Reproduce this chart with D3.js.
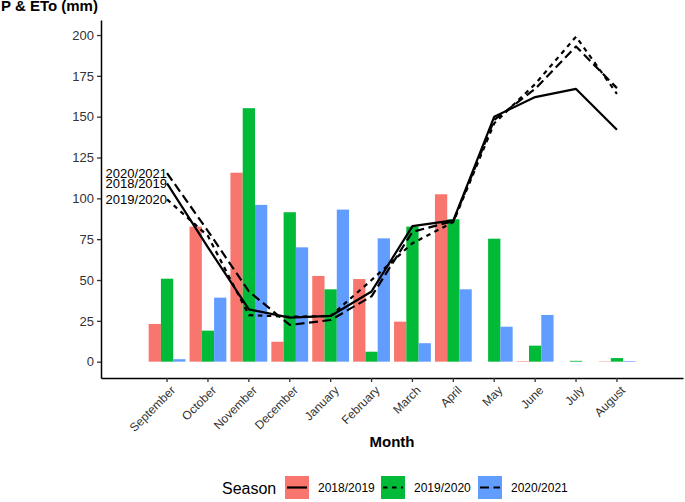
<!DOCTYPE html>
<html><head><meta charset="utf-8">
<script src="https://cdn.jsdelivr.net/npm/d3@7"></script>
<style>
body{margin:0;background:#fff;}
text{font-family:"Liberation Sans",Arial,Helvetica,sans-serif;}
</style></head>
<body><svg id="c" width="685" height="502"></svg>
<script>
const months = ["September","October","November","December","January","February","March","April","May","June","July","August"];
const seasons = ["2018/2019","2019/2020","2020/2021"];
const precip2018 = [23.1, 82.7, 115.7, 12.2, 52.5, 50.6, 24.5, 102.5, 0, 0.3, 0, 0.2];
const precip2019 = [50.8, 19.0, 155.2, 91.5, 44.3, 6.1, 82.7, 87.2, 75.3, 9.8, 0.5, 2.2];
const precip2020 = [1.5, 39.2, 96.0, 70.0, 93.1, 75.5, 11.3, 44.3, 21.4, 28.6, 0, 0.4];
const eto2018 = [109.2, 70, 32, 27, 28, 43, 83, 86.5, 150, 162, 167, 142];
const eto2019 = [99.4, 77, 28.5, 27.5, 28, 50, 72.5, 85.5, 146, 170, 199, 164];
const eto2020 = [115.4, 80, 43, 22.5, 25.5, 40, 79.5, 86, 148, 167, 193, 167.5];
const yTicks = [0, 25, 50, 75, 100, 125, 150, 175, 200];
const colors = ["#F8766D", "#00BA38", "#619CFF"];
const dashes = [null, "4.5,4.5", "9,4.5"];

const precip = [precip2018, precip2019, precip2020];
const eto = [eto2018, eto2019, eto2020];

const svg = d3.select("#c");
const L = 101, R = 683, T = 20, B = 378;

const x = d3.scaleBand().domain(months).range([L, R]).paddingInner(0).paddingOuter(1.115);
const y = d3.scaleLinear().domain([-10, 209.2]).range([B, T]);
const cx = m => x(m) + x.bandwidth() / 2;
const xs = d3.scaleBand().domain(seasons).range([-0.45 * x.step(), 0.45 * x.step()]);

// bars
seasons.forEach((s, si) => {
  svg.append("g").selectAll("rect").data(months).join("rect")
    .attr("x", (m) => cx(m) + xs(s))
    .attr("width", xs.bandwidth())
    .attr("y", (m, i) => y(precip[si][i]))
    .attr("height", (m, i) => y(0) - y(precip[si][i]))
    .attr("fill", colors[si]);
});

// lines
const line = d3.line().x((d, i) => cx(months[i])).y(d => y(d));
seasons.forEach((s, si) => {
  svg.append("path").datum(eto[si]).attr("d", line)
    .attr("fill", "none").attr("stroke", "#000").attr("stroke-width", 2.2)
    .attr("stroke-linejoin", "round")
    .attr("stroke-dasharray", dashes[si]);
});

// labels at September
seasons.forEach((s, si) => {
  svg.append("text").attr("x", cx(months[0])).attr("y", y(eto[si][0]))
    .attr("dy", "0.36em").attr("text-anchor", "end")
    .attr("font-size", 13).attr("fill", "#000").text(s);
});

// axes
const yAxis = svg.append("g").attr("transform", `translate(${L},0)`)
  .call(d3.axisLeft(y).tickValues(yTicks).tickSize(4).tickSizeOuter(0).tickPadding(3));
yAxis.select(".domain").attr("stroke", "#000").attr("stroke-width", 1.5);
yAxis.selectAll(".tick line").attr("stroke", "#333").attr("stroke-width", 1.3);
yAxis.selectAll(".tick text").attr("font-size", 13).attr("fill", "#333")
  .attr("font-family", "'Liberation Sans',Arial,sans-serif");

const xAxis = svg.append("g").attr("transform", `translate(0,${B})`)
  .call(d3.axisBottom(x).tickSize(4).tickSizeOuter(0).tickPadding(3));
xAxis.select(".domain").attr("stroke", "#000").attr("stroke-width", 1.5);
xAxis.selectAll(".tick line").attr("stroke", "#333").attr("stroke-width", 1.3);
xAxis.selectAll(".tick text").attr("font-size", 12).attr("fill", "#333")
  .attr("font-family", "'Liberation Sans',Arial,sans-serif")
  .attr("text-anchor", "end").attr("dy", null).attr("y", null)
  .attr("transform", "translate(3,7) rotate(-45)")
  .attr("dy", "0.71em");

// titles
svg.append("text").attr("x", 1).attr("y", 11).attr("font-size", 15).attr("font-weight", "bold").text("P & ETo (mm)");
svg.append("text").attr("x", (L + R) / 2).attr("y", 447).attr("text-anchor", "middle")
  .attr("font-size", 15).attr("font-weight", "bold").text("Month");

// legend
svg.append("text").attr("x", 222).attr("y", 494).attr("font-size", 16).text("Season");
const keyX = [285, 381, 478];
seasons.forEach((s, si) => {
  const g = svg.append("g").attr("transform", `translate(${keyX[si]},476)`);
  g.append("rect").attr("width", 24).attr("height", 23).attr("fill", colors[si]);
  g.append("line").attr("x1", 2).attr("x2", 22).attr("y1", 11.5).attr("y2", 11.5)
    .attr("stroke", "#000").attr("stroke-width", 2.2).attr("stroke-dasharray", dashes[si]);
  g.append("text").attr("x", 33).attr("y", 16).attr("font-size", 12).text(s);
});
</script></body></html>
